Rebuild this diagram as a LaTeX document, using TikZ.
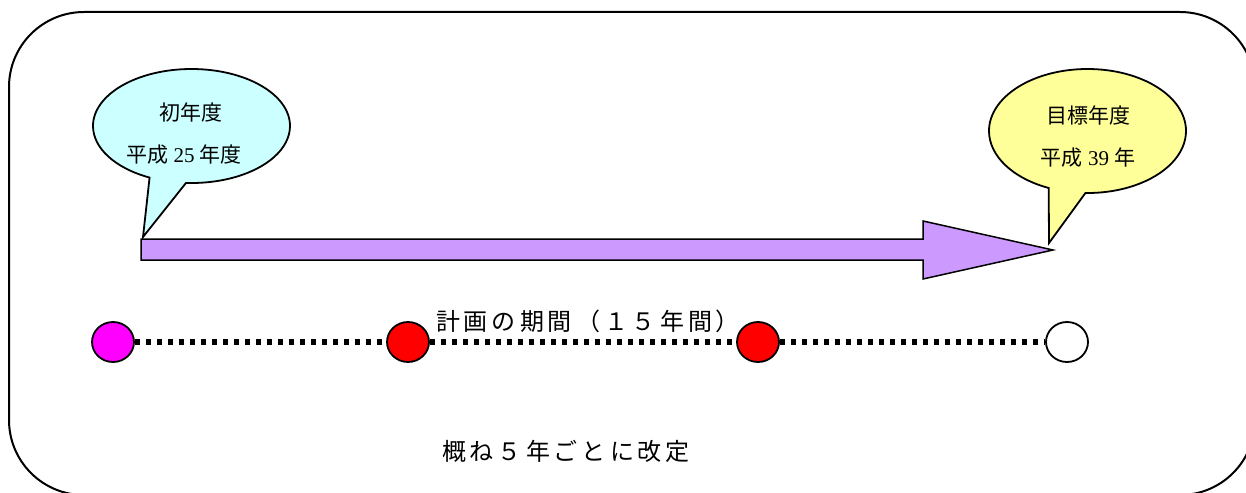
\documentclass[tikz,border=0pt]{standalone}
\usepackage{fontspec}
\setmainfont{Liberation Serif}
\newfontfamily\jp{Noto Sans CJK JP}
\usetikzlibrary{shapes.callouts,shapes.geometric}
\definecolor{bubcyan}{HTML}{CCFFFF}
\definecolor{bubyellow}{HTML}{FFFF99}
\definecolor{arrpurple}{HTML}{CC99FF}
\definecolor{dotmagenta}{HTML}{FF00FF}
\definecolor{dotred}{HTML}{FF0000}
\def\spc#1{\ifx#1\relax\else#1\kern4pt\expandafter\spc\fi}
\tikzset{
  bubble/.style={ellipse callout, draw, line width=1.8pt, inner sep=0pt, callout pointer arc=22},
  bubtext/.style={inner sep=0pt, font=\fontsize{21}{21}\selectfont},
  bigtext/.style={inner sep=0pt, font=\jp\fontsize{24}{24}\selectfont},
  dotnode/.style={ellipse, draw, line width=1.8pt, minimum width=42pt, minimum height=40pt, inner sep=0pt},
  dotline/.style={line width=5.5pt, dash pattern=on 5.5pt off 5.5pt}
}
\begin{document}
\begin{tikzpicture}[x=1pt,y=1pt]
\useasboundingbox (0,0) rectangle (1246,-492);
\clip (0,0) rectangle (1246,-492);
\fill[white] (0,0) rectangle (1246,-492);
\draw[line width=2pt, rounded corners=75pt] (9,-12) rectangle (1255,-495);

% arrow
\coordinate (at) at (1053,-250);
\draw[fill=arrpurple, line width=1.5pt] (141,-239) -- (923,-239) -- (923,-221) -- (at) -- (923,-279) -- (923,-260) -- (141,-260) -- cycle;

% bubbles
\node[bubble, fill=bubcyan, minimum width=197pt, minimum height=114pt, callout absolute pointer={(143,-237)}] (b1) at (191.5,-126) {};
\node[bubtext] (b1a) at (191,-112) {\jp 初年度};
\node[bubtext] (b1b) at (184,-155) {{\jp 平成} 25 {\jp 年度}};

\node[bubble, fill=bubyellow, minimum width=197pt, minimum height=124pt, callout absolute pointer={(1049,-243)}] (b2) at (1087.5,-131) {};
\node[bubtext] (b2a) at (1088,-115) {\jp 目標年度};
\node[bubtext] (b2b) at (1088,-158) {{\jp 平成} 39 {\jp 年}};

% timeline
\node[dotnode, fill=dotmagenta] (c1) at (113,-342) {};
\node[dotnode, fill=dotred] (c2) at (408,-342) {};
\node[dotnode, fill=dotred] (c3) at (758,-342) {};
\node[dotnode, fill=white] (c4) at (1067,-342) {};
\draw[dotline] (c1) -- (c2);
\draw[dotline] (c2) -- (c3);
\draw[dotline] (c3) -- (c4);

\node[bigtext] (m) at (590,-321) {\spc 計画の期間（１５年間）\relax};
\node[bigtext] (n) at (568,-451) {\spc 概ね５年ごとに改定\relax};
\end{tikzpicture}
\end{document}
